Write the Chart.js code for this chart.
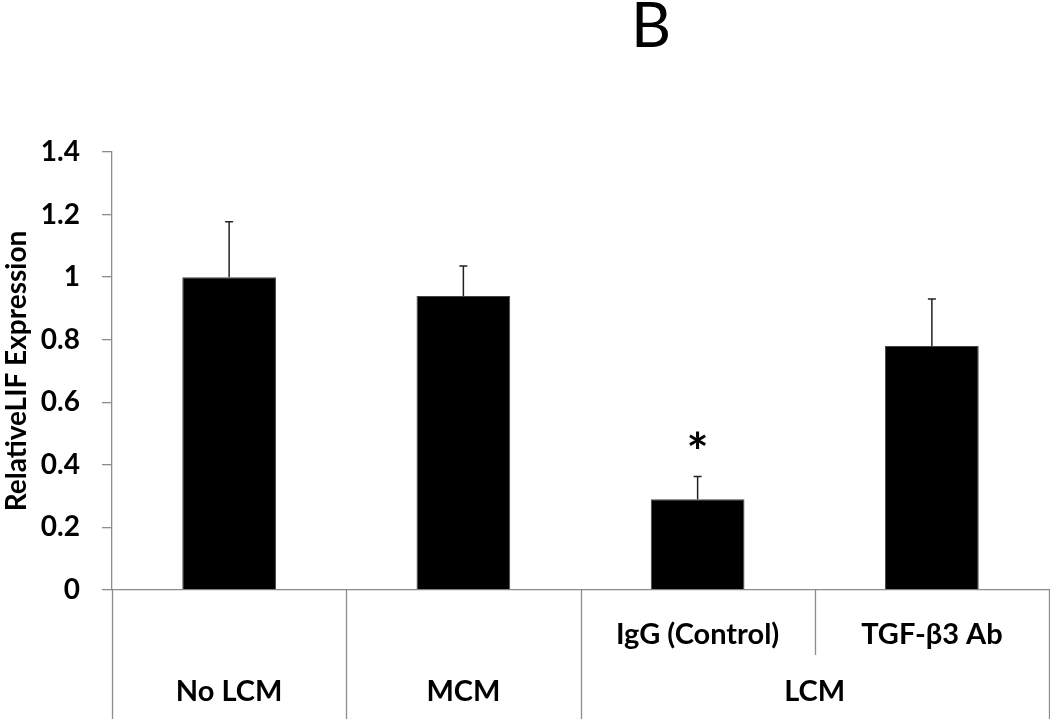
<!DOCTYPE html>
<html>
<head>
<meta charset="utf-8">
<script src="https://cdn.jsdelivr.net/npm/chart.js@4"></script>
<style>
  body { margin: 0; background: #fff; }
  #lifChart { display: block; }
</style>
</head>
<body>
<canvas id="lifChart" width="1050" height="719"></canvas>
<script>
// data
const groups = ['No LCM', 'MCM', 'LCM', 'LCM'];
const subLabels = ['', '', 'IgG (Control)', 'TGF-β3 Ab'];
const lifValues = [1.0, 0.94, 0.29, 0.78];
const lifErrors = [0.177, 0.096, 0.073, 0.15];
const sigMarks = ['', '', '*', ''];
const yTicks = [0, 0.2, 0.4, 0.6, 0.8, 1, 1.2, 1.4];

const axisGrey = '#8c8c8c';
const fontFam = 'Lato, "Open Sans", sans-serif';

// error bars + asterisk
const errorBars = {
    id: 'errorBars',
    afterDatasetsDraw(chart) {
        const ctx = chart.ctx;
        const y = chart.scales.y;
        const meta = chart.getDatasetMeta(0);
        ctx.save();
        ctx.strokeStyle = '#222';
        ctx.lineWidth = 1.5;
        meta.data.forEach((bar, i) => {
            const top = y.getPixelForValue(lifValues[i]);
            const end = y.getPixelForValue(lifValues[i] + lifErrors[i]);
            ctx.beginPath();
            ctx.moveTo(bar.x, top);
            ctx.lineTo(bar.x, end);
            ctx.moveTo(bar.x - 4, end);
            ctx.lineTo(bar.x + 4, end);
            ctx.stroke();
            if (sigMarks[i]) {
                ctx.fillStyle = '#000';
                ctx.font = 'bold 52px ' + fontFam;
                ctx.textAlign = 'center';
                ctx.textBaseline = 'middle';
                ctx.fillText(sigMarks[i], bar.x, end - 22);
            }
        });
        ctx.restore();
    }
};

// two-level category table under the axis, plus the panel letter
const groupTable = {
    id: 'groupTable',
    afterDraw(chart) {
        const ctx = chart.ctx;
        const x = chart.scales.x;
        const area = chart.chartArea;
        const bottom = chart.height;
        const n = groups.length;
        const half = (x.getPixelForValue(1) - x.getPixelForValue(0)) / 2;
        ctx.save();
        ctx.strokeStyle = axisGrey;
        ctx.lineWidth = 1.3;
        // boundaries
        for (let i = 0; i <= n; i++) {
            const px = i < n ? x.getPixelForValue(i) - half : x.getPixelForValue(n - 1) + half;
            let endY = bottom;
            if (i > 0 && i < n && groups[i] === groups[i - 1]) endY = area.bottom + 65;
            ctx.beginPath();
            ctx.moveTo(Math.round(px) + 0.5, area.bottom);
            ctx.lineTo(Math.round(px) + 0.5, endY);
            ctx.stroke();
        }
        ctx.fillStyle = '#000';
        ctx.font = 'bold 29px ' + fontFam;
        ctx.textAlign = 'center';
        ctx.textBaseline = 'middle';
        // sub labels
        subLabels.forEach((lab, i) => {
            if (lab) ctx.fillText(lab, x.getPixelForValue(i), area.bottom + 45);
        });
        // group labels, merged over equal neighbours
        let s = 0;
        for (let i = 1; i <= n; i++) {
            if (i === n || groups[i] !== groups[s]) {
                const cx = (x.getPixelForValue(s) + x.getPixelForValue(i - 1)) / 2;
                ctx.fillText(groups[s], cx, area.bottom + 102);
                s = i;
            }
        }
        // panel letter
        ctx.font = '62px ' + fontFam;
        ctx.textBaseline = 'alphabetic';
        ctx.fillText('B', 651, 47);
        ctx.restore();
    }
};

new Chart(document.getElementById('lifChart'), {
    type: 'bar',
    data: {
        labels: subLabels.map((s, i) => s || groups[i]),
        datasets: [{
            data: lifValues,
            backgroundColor: '#000',
            borderColor: '#444',
            borderWidth: 1,
            barPercentage: 0.4,
            categoryPercentage: 1.0
        }]
    },
    options: {
        responsive: false,
        animation: false,
        layout: { padding: { top: 152, right: 1, left: 0, bottom: 0 } },
        plugins: {
            legend: { display: false },
            tooltip: { enabled: false }
        },
        scales: {
            x: {
                grid: { display: false },
                border: { color: axisGrey, width: 1.3 },
                ticks: { display: false },
                afterFit(scale) { scale.height = 129; }
            },
            y: {
                min: 0,
                max: 1.4,
                afterBuildTicks(scale) { scale.ticks = yTicks.map(v => ({ value: v })); },
                grid: { drawOnChartArea: false, drawTicks: true, tickLength: 10, color: axisGrey, lineWidth: 1.3 },
                border: { color: axisGrey, width: 1.3 },
                ticks: {
                    color: '#000',
                    padding: 22,
                    font: { family: fontFam, size: 28, weight: 'bold' },
                    callback: v => String(v)
                },
                title: {
                    display: true,
                    text: 'RelativeLIF Expression',
                    color: '#000',
                    padding: { top: 0, bottom: 0 },
                    font: { family: fontFam, size: 28, weight: 'bold' }
                },
                afterFit(scale) { scale.width = 112; }
            }
        }
    },
    plugins: [errorBars, groupTable]
});
</script>
</body>
</html>
